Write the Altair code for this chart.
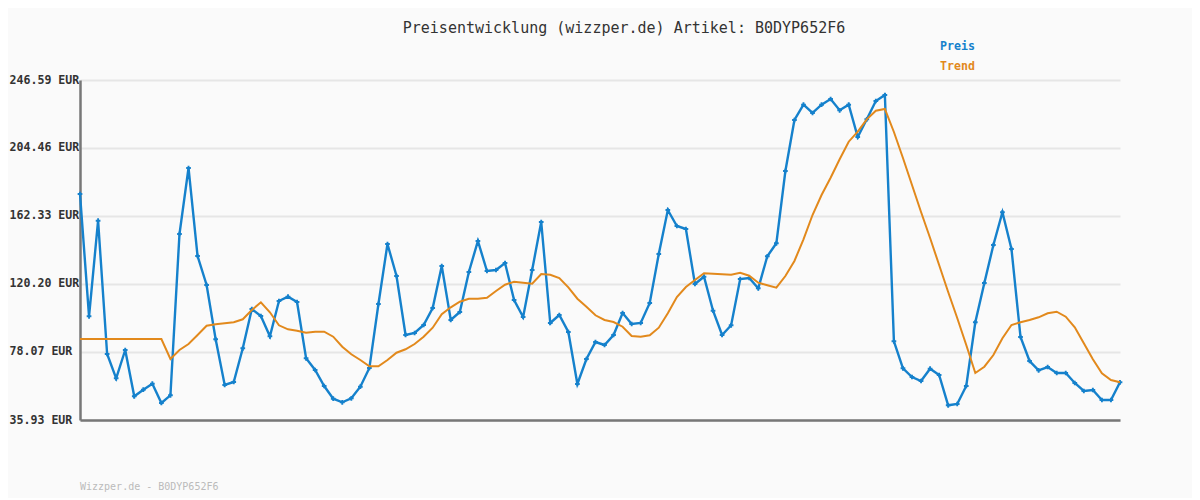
import altair as alt
import pandas as pd

preis = [175.96, 100.18, 159.42, 76.83, 61.77, 79.30, 50.61, 54.70, 58.42, 46.46,
         51.24, 151.17, 192.07, 137.54, 119.57, 85.93, 57.61, 59.47, 80.35, 104.70,
         100.37, 87.79, 109.66, 112.32, 109.04, 74.16, 66.91, 57.00, 49.13, 46.90,
         49.38, 56.56, 68.15, 107.80, 144.97, 125.15, 88.59, 89.83, 94.79, 105.32,
         131.35, 97.89, 102.84, 127.63, 146.84, 128.25, 128.87, 133.20, 110.28, 99.75,
         128.87, 158.61, 96.03, 100.99, 90.45, 58.23, 73.72, 84.26, 82.40, 88.59,
         102.23, 95.41, 96.03, 108.42, 138.78, 166.04, 156.13, 154.27, 120.20, 124.72,
         103.65, 88.59, 94.61, 123.29, 123.91, 117.53, 137.36, 145.41, 190.21, 221.81,
         231.29, 226.15, 231.29, 234.82, 227.82, 231.29, 211.28, 222.24, 233.58, 237.30,
         84.69, 67.96, 62.57, 60.09, 67.72, 63.81, 45.04, 45.84, 57.00, 96.46,
         120.81, 144.36, 164.62, 141.88, 87.35, 72.48, 66.72, 68.76, 65.05, 65.05,
         58.85, 53.90, 54.52, 48.32, 48.32, 59.29]

trend = [86.12, 86.12, 86.12, 86.12, 86.12, 86.12, 86.12, 86.12, 86.12, 86.12,
         73.72, 79.30, 83.02, 88.59, 94.36, 95.22, 95.84, 96.46, 98.32, 104.09,
         108.86, 102.66, 94.61, 92.13, 91.26, 90.02, 90.64, 90.64, 87.54, 81.34,
         76.63, 73.10, 69.20, 69.20, 73.10, 77.63, 79.74, 83.02, 87.54, 93.12,
         101.42, 105.76, 109.23, 111.09, 111.09, 111.71, 115.86, 119.76, 121.62, 121.00,
         120.38, 126.39, 125.96, 123.91, 118.15, 111.09, 106.13, 100.80, 97.89, 96.65,
         93.74, 87.98, 87.54, 88.41, 93.12, 102.04, 112.14, 118.34, 122.67, 126.82,
         126.58, 126.21, 125.96, 127.20, 125.34, 121.00, 119.39, 117.90, 125.15, 134.44,
         147.89, 162.94, 175.34, 186.06, 197.46, 208.36, 214.56, 222.24, 227.57, 228.62,
         214.37, 198.26, 181.53, 164.80, 148.69, 131.96, 115.24, 99.13, 82.40, 65.05,
         68.95, 76.20, 86.55, 94.79, 96.46, 97.89, 99.56, 102.04, 103.03, 99.94,
         93.37, 83.45, 73.54, 64.86, 60.72, 59.29]

y_ticks = [35.93, 78.07, 120.20, 162.33, 204.46, 246.59]

title_text = "Preisentwicklung (wizzper.de) Artikel: B0DYP652F6"
legend_labels = ["Preis", "Trend"]
footer_text = "Wizzper.de - B0DYP652F6"

BLUE = "#1581cc"
ORANGE = "#e2891c"
FONT = "DejaVu Sans Mono"

df = pd.DataFrame({"idx": list(range(len(preis))), "preis": preis, "trend": trend})

x_scale = alt.Scale(domain=[0, len(preis) - 1], nice=False, zero=False)
x_enc = alt.X("idx:Q", scale=x_scale,
              axis=alt.Axis(title=None, labels=False, ticks=False, grid=False,
                            domainColor="#777777", domainWidth=2.5))
y_scale = alt.Scale(domain=[y_ticks[0], y_ticks[-1]], nice=False, zero=False)
y_axis = alt.Axis(title=None, values=y_ticks, labelExpr="format(datum.value, '.2f') + ' EUR'",
                  labelAlign="left", labelPadding=71, tickSize=0, ticks=False,
                  labelFont=FONT, labelFontSize=11.6, labelFontWeight="bold", labelColor="#333333",
                  labelBaseline="middle", gridColor="#e6e6e6", gridWidth=2,
                  domainColor="#777777", domainWidth=2.5)

base = alt.Chart(df)
line_p = base.mark_line(color=BLUE, strokeWidth=2.4).encode(
    x=x_enc, y=alt.Y("preis:Q", scale=y_scale, axis=y_axis))
pts = base.mark_point(shape="cross", filled=True, color=BLUE, size=22, opacity=1).encode(
    x=alt.X("idx:Q", scale=x_scale), y=alt.Y("preis:Q", scale=y_scale))
line_t = base.mark_line(color=ORANGE, strokeWidth=2).encode(
    x=alt.X("idx:Q", scale=x_scale), y=alt.Y("trend:Q", scale=y_scale))

title = alt.Chart(pd.DataFrame({"t": [title_text]})).mark_text(
    font=FONT, fontSize=15, color="#333333", align="center", baseline="middle").encode(
    text="t:N", x=alt.value(544), y=alt.value(-52))

leg_p = alt.Chart(pd.DataFrame({"t": [legend_labels[0]]})).mark_text(
    font=FONT, fontSize=11.6, fontWeight="bold", align="left", baseline="middle", color=BLUE).encode(
    text="t:N", x=alt.value(860), y=alt.value(-33))
leg_t = alt.Chart(pd.DataFrame({"t": [legend_labels[1]]})).mark_text(
    font=FONT, fontSize=11.6, fontWeight="bold", align="left", baseline="middle", color=ORANGE).encode(
    text="t:N", x=alt.value(860), y=alt.value(-13))

footer = alt.Chart(pd.DataFrame({"t": [footer_text]})).mark_text(
    font=FONT, fontSize=10, color="#bbbbbb", align="left", baseline="middle").encode(
    text="t:N", x=alt.value(0), y=alt.value(407))

chart = alt.layer(line_p, pts, line_t, title, leg_p, leg_t, footer).properties(
    width=1040, height=340,
    autosize=alt.AutoSizeParams(type="none"),
    padding={"left": 72, "top": 72, "right": 72, "bottom": 78},
    background="#fafafa",
).configure_view(stroke=None)

chart.save("out.html", embed_options={"renderer": "svg", "actions": False})
